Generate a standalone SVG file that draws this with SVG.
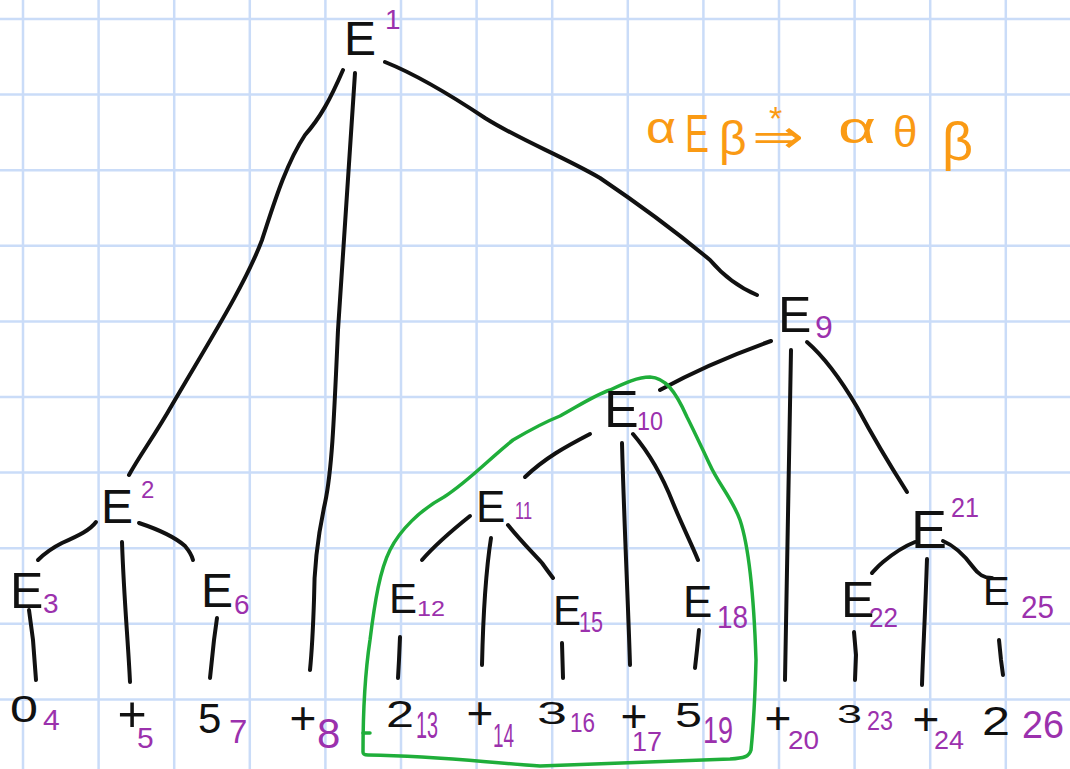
<svg xmlns="http://www.w3.org/2000/svg" width="1070" height="769" viewBox="0 0 1070 769">
<style>
.grid line{stroke:#cadcf8;stroke-width:2.5}
.edge path{fill:none;stroke:#111;stroke-width:4;stroke-linecap:round;stroke-linejoin:round}
.loop{fill:none;stroke:#1fae3a;stroke-width:3.5;stroke-linecap:round;stroke-linejoin:round}
text{font-family:"Liberation Sans",Arial,sans-serif}
.e{fill:#111}
.s{fill:#9b31ad}
.o{fill:#fa9a14}
</style>
<rect width="1070" height="769" fill="#fff"/>
<g class="grid">
<line x1="23" y1="0" x2="23" y2="769"/><line x1="98.6" y1="0" x2="98.6" y2="769"/><line x1="174.2" y1="0" x2="174.2" y2="769"/><line x1="249.8" y1="0" x2="249.8" y2="769"/><line x1="325.4" y1="0" x2="325.4" y2="769"/><line x1="401" y1="0" x2="401" y2="769"/><line x1="476.6" y1="0" x2="476.6" y2="769"/><line x1="552.2" y1="0" x2="552.2" y2="769"/><line x1="627.8" y1="0" x2="627.8" y2="769"/><line x1="703.4" y1="0" x2="703.4" y2="769"/><line x1="779" y1="0" x2="779" y2="769"/><line x1="854.6" y1="0" x2="854.6" y2="769"/><line x1="930.2" y1="0" x2="930.2" y2="769"/><line x1="1005.8" y1="0" x2="1005.8" y2="769"/>
<line x1="0" y1="19" x2="1070" y2="19"/><line x1="0" y1="94.6" x2="1070" y2="94.6"/><line x1="0" y1="170.2" x2="1070" y2="170.2"/><line x1="0" y1="245.8" x2="1070" y2="245.8"/><line x1="0" y1="321.4" x2="1070" y2="321.4"/><line x1="0" y1="397" x2="1070" y2="397"/><line x1="0" y1="472.6" x2="1070" y2="472.6"/><line x1="0" y1="548.2" x2="1070" y2="548.2"/><line x1="0" y1="623.8" x2="1070" y2="623.8"/><line x1="0" y1="699.4" x2="1070" y2="699.4"/>
</g>
<g id="connectors" class="edge">
<path d="M343,70 C330,100 320,118 305,135 C285,165 272,210 262,240 C245,285 210,340 172,405 C155,435 140,455 129,475"/>
<path d="M355,73 C352,130 345,220 338,330 C334,420 332,470 325,503 C318,535 314,570 314,600 C313,630 312,650 310,670"/>
<path d="M385,62 C410,72 440,88 485,118 C520,140 560,155 600,178 C640,205 680,235 710,260 C727,280 745,290 757,295"/>
<path d="M771,341 C740,352 700,368 660,390"/>
<path d="M791,350 C790,450 787,560 785,680"/>
<path d="M807,342 C822,355 837,373 857,407 C872,435 893,470 907,492"/>
<path d="M590,434 C565,447 545,458 525,477"/>
<path d="M622,443 C624,520 628,600 630,665"/>
<path d="M633,434 C645,448 660,470 673,503 C682,525 692,545 698,560"/>
<path d="M470,516 C450,532 435,545 422,560"/>
<path d="M491,538 C486,570 483,620 482,665"/>
<path d="M508,525 C520,540 532,552 542,563 C547,570 550,574 553,578"/>
<path d="M400,637 L399,660 L398,678"/>
<path d="M562,643 L563,678"/>
<path d="M699,630 L697,650 L695,668"/>
<path d="M96,522 C90,530 80,535 62,543 C52,548 45,553 38,560"/>
<path d="M122,542 C124,600 128,640 130,682"/>
<path d="M139,523 C160,530 176,538 185,546 C190,552 192,556 193,560"/>
<path d="M29,610 L33,640 L36,680"/>
<path d="M217,618 L214,640 L210,678"/>
<path d="M915,542 C905,546 895,552 883,562 C878,566 875,570 872,573"/>
<path d="M927,559 C925,620 923,650 922,685"/>
<path d="M943,541 C955,546 965,556 973,567 C978,574 983,578 992,578"/>
<path d="M854,632 L856,655 L855,680"/>
<path d="M999,640 L1001,660 L1003,675"/>
</g>
<path class="loop" d="M363,752 C363,720 364,680 370,640 C375,600 380,570 390,550 C400,530 420,510 444,497 C470,480 490,458 513,440 C530,430 545,422 560,416 C580,405 595,395 610,390 C625,383 638,377 650,377 C665,378 675,390 687,417 C695,433 702,448 710,465 C718,483 733,500 740,520 C750,550 754,600 756,660 C755,700 753,730 751,750 C749,757 744,758 730,759 C690,761 640,762 540,766 C480,762 440,756 368,755 C364,755 363,754 363,752 Z"/>
<path class="loop" d="M363,733 L370,733"/>
<g id="formula" class="o">
<text x="646" y="143" font-size="44" textLength="30" lengthAdjust="spacingAndGlyphs">α</text>
<text x="685" y="152" font-size="54" textLength="24" lengthAdjust="spacingAndGlyphs">E</text>
<text x="719" y="155" font-size="48">β</text>
<text x="752" y="153" font-size="48" style="font-family:'DejaVu Sans',sans-serif" textLength="52" lengthAdjust="spacingAndGlyphs">⇒</text>
<text x="769" y="130" font-size="34">*</text>
<text x="838" y="143" font-size="44" textLength="38" lengthAdjust="spacingAndGlyphs">α</text>
<text x="893" y="147" font-size="44">θ</text>
<text x="942" y="160" font-size="54">β</text>
</g>
<g id="n1"><text class="e" x="344" y="55" font-size="48">E</text><text class="s" x="385" y="29" font-size="28">1</text></g>
<g id="n2"><text class="e" x="101" y="523" font-size="48">E</text><text class="s" x="141" y="498" font-size="24">2</text></g>
<g id="n3"><text class="e" x="10" y="608" font-size="50">E</text><text class="s" x="43" y="613" font-size="28">3</text></g>
<g id="n6"><text class="e" x="201" y="607" font-size="48">E</text><text class="s" x="234" y="614" font-size="28">6</text></g>
<g id="n9"><text class="e" x="778" y="332" font-size="50">E</text><text class="s" x="815" y="338" font-size="32">9</text></g>
<g id="n10"><text class="e" x="604" y="427" font-size="52">E</text><text class="s" x="637" y="430" font-size="25" textLength="26" lengthAdjust="spacingAndGlyphs">10</text></g>
<g id="n11"><text class="e" x="476" y="522" font-size="44">E</text><text class="s" x="515" y="519" font-size="24" textLength="17" lengthAdjust="spacingAndGlyphs">11</text></g>
<g id="n12"><text class="e" x="389" y="613" font-size="42">E</text><text class="s" x="417" y="616" font-size="22" textLength="28" lengthAdjust="spacingAndGlyphs">12</text></g>
<g id="n15"><text class="e" x="553" y="625" font-size="42">E</text><text class="s" x="579" y="632" font-size="30" textLength="24" lengthAdjust="spacingAndGlyphs">15</text></g>
<g id="n18"><text class="e" x="683" y="617" font-size="44">E</text><text class="s" x="717" y="628" font-size="32" textLength="31" lengthAdjust="spacingAndGlyphs">18</text></g>
<g id="n21"><text class="e" x="911" y="548" font-size="54">E</text><text class="s" x="951" y="517" font-size="28" textLength="28" lengthAdjust="spacingAndGlyphs">21</text></g>
<g id="n22"><text class="e" x="841" y="617" font-size="50">E</text><text class="s" x="869" y="627" font-size="27" textLength="29" lengthAdjust="spacingAndGlyphs">22</text></g>
<g id="n25"><text class="e" x="983" y="605" font-size="40">E</text><text class="s" x="1021" y="618" font-size="31" textLength="33" lengthAdjust="spacingAndGlyphs">25</text></g>
<g id="leaf4"><text class="e" x="10" y="722" font-size="36" textLength="28" lengthAdjust="spacingAndGlyphs">0</text><text class="s" x="43" y="730" font-size="30">4</text></g>
<g id="leaf5"><text class="e" x="132" y="730.6" font-size="50" text-anchor="middle">+</text><text class="s" x="137" y="748" font-size="30">5</text></g>
<g id="leaf7"><text class="e" x="198" y="733" font-size="42">5</text><text class="s" x="229" y="743" font-size="33">7</text></g>
<g id="leaf8"><text class="e" x="303" y="734" font-size="46" text-anchor="middle">+</text><text class="s" x="317" y="748" font-size="42">8</text></g>
<g id="leaf13"><text class="e" x="386" y="727" font-size="36" textLength="28" lengthAdjust="spacingAndGlyphs">2</text><text class="s" x="416" y="738" font-size="36" textLength="22" lengthAdjust="spacingAndGlyphs">13</text></g>
<g id="leaf14"><text class="e" x="480" y="729" font-size="46" text-anchor="middle">+</text><text class="s" x="493" y="747" font-size="33" textLength="21" lengthAdjust="spacingAndGlyphs">14</text></g>
<g id="leaf16"><text class="e" x="537" y="724" font-size="32" textLength="30" lengthAdjust="spacingAndGlyphs">3</text><text class="s" x="570" y="732" font-size="28" textLength="25" lengthAdjust="spacingAndGlyphs">16</text></g>
<g id="leaf17"><text class="e" x="634" y="732" font-size="46" text-anchor="middle">+</text><text class="s" x="632" y="751" font-size="28" textLength="30" lengthAdjust="spacingAndGlyphs">17</text></g>
<g id="leaf19"><text class="e" x="675" y="727" font-size="35" textLength="27" lengthAdjust="spacingAndGlyphs">5</text><text class="s" x="703" y="743" font-size="36" textLength="30" lengthAdjust="spacingAndGlyphs">19</text></g>
<g id="leaf20"><text class="e" x="778" y="734" font-size="46" text-anchor="middle">+</text><text class="s" x="788" y="749" font-size="26" textLength="31" lengthAdjust="spacingAndGlyphs">20</text></g>
<g id="leaf23"><text class="e" x="837" y="723" font-size="26" textLength="25" lengthAdjust="spacingAndGlyphs">3</text><text class="s" x="867" y="730" font-size="28" textLength="26" lengthAdjust="spacingAndGlyphs">23</text></g>
<g id="leaf24"><text class="e" x="926" y="735" font-size="46" text-anchor="middle">+</text><text class="s" x="934" y="749" font-size="26" textLength="30" lengthAdjust="spacingAndGlyphs">24</text></g>
<g id="leaf26"><text class="e" x="982" y="735" font-size="41" textLength="28" lengthAdjust="spacingAndGlyphs">2</text><text class="s" x="1022" y="738" font-size="38" textLength="42" lengthAdjust="spacingAndGlyphs">26</text></g>
</svg>
